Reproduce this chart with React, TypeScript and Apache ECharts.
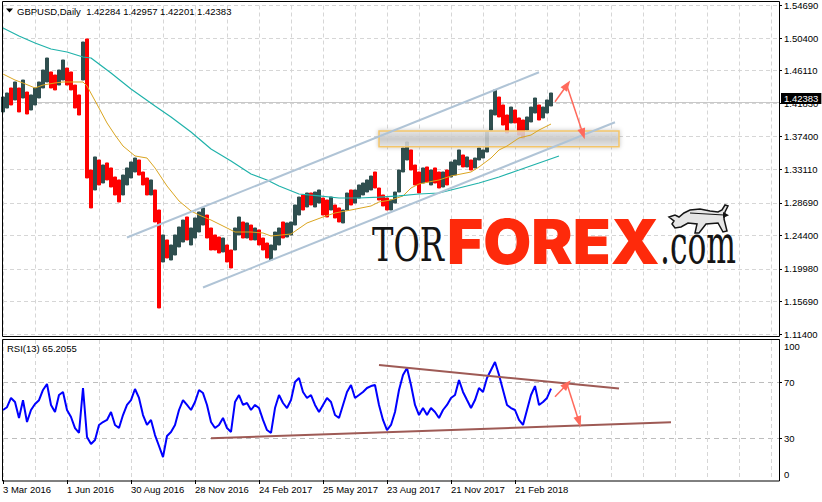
import React, { useEffect, useRef } from 'react';
import * as echarts from 'echarts';

// ---------- data ----------
const dateLabels = ['3 Mar 2016', '1 Jun 2016', '30 Aug 2016', '28 Nov 2016', '24 Feb 2017', '25 May 2017', '23 Aug 2017', '21 Nov 2017', '21 Feb 2018'];
const priceTicks = [1.114, 1.1569, 1.1998, 1.244, 1.2869, 1.3311, 1.374, 1.4183, 1.4611, 1.504, 1.5469];
const rsiTicks = [30, 70];
const ohlcTitle = ['1.42284', '1.42957', '1.42201', '1.42383'];
const lastPrice = 1.42383;
const rsiLast = '65.2055';
const N_CATEGORIES = 195;

const barHighs = [
  1.4263, 1.4316, 1.4382, 1.4461, 1.4382, 1.4487, 1.4329, 1.4290, 1.4382, 1.4461,
  1.4619, 1.4777, 1.4593, 1.4553, 1.4619, 1.4751, 1.4645, 1.4593, 1.4421, 1.4290,
  1.4988, 1.5028, 1.3301, 1.3473, 1.3433, 1.3367, 1.3394, 1.3328, 1.3209, 1.3170,
  1.3235, 1.3328, 1.3407, 1.3459, 1.3433, 1.3275, 1.3196, 1.3170, 1.3038, 1.2774,
  1.2445, 1.2379, 1.2313, 1.2445, 1.2550, 1.2642, 1.2682, 1.2537, 1.2669, 1.2748,
  1.2801, 1.2708, 1.2537, 1.2445, 1.2418, 1.2405, 1.2313, 1.2247, 1.2537, 1.2682,
  1.2616, 1.2603, 1.2576, 1.2537, 1.2511, 1.2405, 1.2339, 1.2313, 1.2484, 1.2537,
  1.2616, 1.2603, 1.2616, 1.2840, 1.2945, 1.2972, 1.2998, 1.2998, 1.3011, 1.3038,
  1.2932, 1.2906, 1.2945, 1.2840, 1.2801, 1.2774, 1.2998, 1.3038, 1.3038, 1.3104,
  1.3130, 1.3170, 1.3222, 1.3275, 1.3064, 1.2972, 1.2932, 1.2906, 1.3011, 1.3301,
  1.3591, 1.3670, 1.3565, 1.3367, 1.3275, 1.3328, 1.3341, 1.3301, 1.3328, 1.3275,
  1.3275, 1.3301, 1.3407, 1.3433, 1.3565, 1.3499, 1.3473, 1.3433, 1.3459, 1.3591,
  1.3565, 1.3802, 1.4092, 1.4356, 1.4263, 1.4158, 1.4026, 1.4131, 1.4092, 1.3987,
  1.3960, 1.4000, 1.4131, 1.4250, 1.4158, 1.4131, 1.4224, 1.4316,
];
const barLows = [
  1.4066, 1.4118, 1.4158, 1.4224, 1.4066, 1.4250, 1.4039, 1.4092, 1.4158, 1.4250,
  1.4382, 1.4461, 1.4382, 1.4356, 1.4421, 1.4487, 1.4421, 1.4356, 1.4118, 1.4026,
  1.4487, 1.3196, 1.2801, 1.3038, 1.3104, 1.3130, 1.3170, 1.3077, 1.2972, 1.2880,
  1.2972, 1.3104, 1.3196, 1.3275, 1.3235, 1.3104, 1.2972, 1.2972, 1.2616, 1.1483,
  1.2089, 1.2142, 1.2115, 1.2181, 1.2287, 1.2352, 1.2379, 1.2313, 1.2405, 1.2484,
  1.2576, 1.2405, 1.2247, 1.2247, 1.2208, 1.2221, 1.2089, 1.2010, 1.2247, 1.2445,
  1.2405, 1.2405, 1.2379, 1.2379, 1.2313, 1.2247, 1.2142, 1.2115, 1.2247, 1.2313,
  1.2405, 1.2418, 1.2445, 1.2576, 1.2708, 1.2774, 1.2814, 1.2840, 1.2814, 1.2866,
  1.2708, 1.2682, 1.2774, 1.2669, 1.2616, 1.2603, 1.2774, 1.2840, 1.2866, 1.2932,
  1.2972, 1.3011, 1.3038, 1.3064, 1.2906, 1.2827, 1.2774, 1.2774, 1.2866, 1.3011,
  1.3275, 1.3433, 1.3301, 1.3104, 1.2998, 1.3130, 1.3143, 1.3104, 1.3130, 1.3064,
  1.3077, 1.3104, 1.3209, 1.3235, 1.3367, 1.3341, 1.3341, 1.3301, 1.3328, 1.3433,
  1.3459, 1.3538, 1.3828, 1.4026, 1.4000, 1.3894, 1.3789, 1.3921, 1.3921, 1.3762,
  1.3723, 1.3828, 1.3934, 1.4052, 1.3960, 1.3987, 1.4052, 1.4145,
];
// u = bullish bar, d = bearish bar
const barDirs =
  'uudududuuu' + 'uudduudddd' + 'uddududddd' + 'uuuudddudd' + 'uduuuuduuu' +
  'uddddudduu' + 'dududdduuu' + 'duuuududuu' + 'ddudduuduu' + 'uuudddduuu' +
  'uudddududd' + 'uduuududuu' + 'uuuudddudd' + 'duuuduuu';

const rsiValues = [
  50, 52, 58.6, 55.7, 44.3, 57, 41.4, 50, 54.3, 57,
  64.3, 68.6, 53.6, 48.6, 60.7, 62.9, 50, 45, 37, 33.6,
  65.7, 30.7, 25.7, 28.6, 39.3, 41.4, 42.9, 48.6, 39.3, 37.1,
  46.4, 53.6, 57.1, 65, 58.6, 46.4, 39.3, 42.9, 32.1, 24.3,
  16.4, 31.4, 34.3, 39.3, 50, 57.1, 53.6, 50, 55.7, 64.3,
  62.1, 53.6, 41.4, 37.1, 39.3, 44.3, 37.1, 34.3, 55.7, 60.7,
  53.6, 55, 50, 53.6, 51.4, 42.9, 35.7, 33.6, 51.4, 60.7,
  55, 51.4, 57.1, 70, 72.9, 62.9, 58.6, 60.7, 53.6, 48.6,
  53.6, 58.6, 55.7, 46.4, 44.3, 53.6, 62.9, 67.9, 58.6, 60.7,
  62.9, 65.7, 67.1, 67.9, 53.6, 42.9, 35.7, 39.3, 48.6, 64.3,
  75, 80, 67.9, 53.6, 46.4, 51.4, 46.4, 51.4, 48.6, 44.3,
  50, 53.6, 58.6, 60.7, 71.4, 62.9, 57.1, 51.4, 57.1, 65.7,
  62.9, 72.9, 78.6, 84.3, 75, 64.3, 53.6, 51.4, 50, 42.9,
  39.3, 50, 60.7, 67.1, 53.6, 55.7, 58.6, 65.2,
];

// moving averages, [bar index, price]
const maFast = [
  [0, 1.4566], [3, 1.4487], [5, 1.4448], [8, 1.4382], [10, 1.4421], [13, 1.4448], [15, 1.4461],
  [18, 1.4461], [20, 1.4461], [21, 1.4408], [24, 1.4118], [26, 1.3921], [28, 1.3762], [30, 1.3617],
  [33, 1.3486], [36, 1.3459], [38, 1.3328], [41, 1.3090], [44, 1.2893], [47, 1.2761], [49, 1.2708],
  [52, 1.2642], [56, 1.2537], [58, 1.2484], [62, 1.2484], [65, 1.2471], [67, 1.2431], [72, 1.2458],
  [76, 1.2603], [80, 1.2682], [83, 1.2735], [87, 1.2774], [92, 1.2827], [94, 1.2880], [97, 1.2906],
  [100, 1.2959], [102, 1.3064], [104, 1.3117], [109, 1.3170], [112, 1.3222], [117, 1.3275],
  [119, 1.3341], [122, 1.3459], [124, 1.3565], [126, 1.3617], [129, 1.3723], [132, 1.3762],
  [134, 1.3828], [137, 1.3907],
];
const maSlow = [
  [0, 1.5173], [4, 1.5067], [8, 1.4975], [12, 1.4896], [16, 1.4856], [20, 1.4790], [22, 1.4777],
  [24, 1.4698], [27, 1.4580], [32, 1.4369], [38, 1.4145], [42, 1.4000], [47, 1.3802], [52, 1.3578],
  [57, 1.3420], [62, 1.3248], [66, 1.3170], [69, 1.3090], [74, 1.2985], [79, 1.2959], [84, 1.2932],
  [89, 1.2932], [94, 1.2945], [99, 1.2959], [104, 1.2985], [109, 1.2998], [114, 1.3064],
  [119, 1.3130], [124, 1.3209], [129, 1.3301], [134, 1.3394], [139, 1.3486],
];

// drawn annotations, [bar index, value]
const channelUpper = [[31, 1.2412], [134, 1.4589]];
const channelLower = [[50, 1.1753], [153, 1.3930]];
const rsiUpperLine = [[94, 82.1], [154, 65.3]];
const rsiLowerLine = [[52, 29.8], [167, 41.2]];
const zoneX = [94, 154];
const zonePrices = [1.3815, 1.3608];
const priceArrows = [
  [[138, 1.4201], [141, 1.4421]],
  [[141, 1.4408], [145, 1.3776]],
];
const rsiArrows = [
  [[138, 59.5], [141, 68.4]],
  [[141, 68.6], [144, 41.6]],
];

// ---------- chart ----------
const FONT = '"Liberation Sans", Arial, sans-serif';
const GRID_COLOR = '#D6D6D6';

function buildOption(): any {
  const categories = Array.from({ length: N_CATEGORIES }, (_, i) => String(i));
  const candles = barHighs.map((h, i) => {
    const l = barLows[i];
    return barDirs[i] === 'u' ? [l, h, l, h] : [h, l, l, h];
  });
  const labelShown = (i: number) => i % 16 === 0 && i / 16 < dateLabels.length;
  const arrowLine = (arr: number[][][]) => ({
    silent: true,
    symbol: ['none', 'triangle'],
    symbolSize: [8, 11],
    label: { show: false },
    lineStyle: { color: '#FF6A5C', width: 1.5, type: 'solid' },
    data: arr.map(([a, b]) => [{ coord: a }, { coord: b }]),
    z: 6,
  });
  const txt = (text: string, x: number, y: number, extra: any = {}, z = 50) => ({
    type: 'text', x, y, z, silent: true,
    style: {
      text, fill: '#000', fontSize: 9.5, fontFamily: FONT,
      align: 'left', textAlign: 'left', verticalAlign: 'middle', textVerticalAlign: 'middle',
      ...extra,
    },
  });
  const bull = [
    [669, 217], [675, 215], [679, 217], [684, 213], [690, 210], [700, 209], [710, 211], [718, 212],
    [722, 210], [725, 205], [728, 206], [725, 212], [724, 219], [727, 231], [723, 232], [718, 223],
    [706, 224], [699, 233], [695, 233], [697, 224], [688, 223], [681, 227], [675, 228], [672, 224],
    [674, 221],
  ];

  return {
    animation: false,
    backgroundColor: '#ffffff',
    grid: [
      { left: 3, width: 776, top: 5.5, height: 328.5 },
      { left: 3, width: 776, top: 340, height: 140 },
    ],
    xAxis: [
      {
        type: 'category', gridIndex: 0, data: categories, boundaryGap: false,
        axisLine: { show: false }, axisTick: { show: false }, axisLabel: { show: false },
        splitLine: { show: true, interval: 7, lineStyle: { color: GRID_COLOR, type: [4, 3], width: 1 } },
      },
      {
        type: 'category', gridIndex: 1, data: categories, boundaryGap: false,
        axisLine: { show: false },
        axisTick: { show: true, interval: labelShown, length: 4, lineStyle: { color: '#000' } },
        axisLabel: {
          show: true, interval: labelShown, align: 'left', margin: 4,
          color: '#000', fontSize: 9.5, fontFamily: FONT,
          formatter: (_v: string, idx: number) => (labelShown(idx) ? dateLabels[idx / 16] : ''),
        },
        splitLine: { show: true, interval: 7, lineStyle: { color: GRID_COLOR, type: [4, 3], width: 1 } },
      },
    ],
    yAxis: [
      {
        type: 'value', gridIndex: 0, position: 'right', min: 1.114, max: 1.5469, scale: true,
        axisLine: { show: true, lineStyle: { color: '#000' } },
        axisTick: { show: true, length: 3, customValues: priceTicks, lineStyle: { color: '#000' } },
        axisLabel: {
          customValues: priceTicks, margin: 5, color: '#000', fontSize: 9.5, fontFamily: FONT,
          formatter: (v: number) => v.toFixed(5),
        },
        splitLine: { show: true, lineStyle: { color: GRID_COLOR, type: [4, 3], width: 1 } },
      },
      {
        type: 'value', gridIndex: 1, position: 'right', min: 0, max: 100,
        axisLine: { show: true, lineStyle: { color: '#000' } },
        axisTick: { show: true, length: 3, customValues: rsiTicks, lineStyle: { color: '#000' } },
        axisLabel: {
          customValues: rsiTicks, margin: 5, color: '#000', fontSize: 9.5, fontFamily: FONT,
          formatter: (v: number) => String(v),
        },
        splitLine: { show: true, lineStyle: { color: '#BDBDBD', type: [5, 4], width: 1 } },
      },
    ],
    series: [
      {
        type: 'candlestick', name: 'GBPUSD', xAxisIndex: 0, yAxisIndex: 0, data: candles,
        barWidth: 3, z: 2,
        itemStyle: { color: '#2F4F4F', color0: '#FF0000', borderColor: '#2F4F4F', borderColor0: '#FF0000', borderWidth: 1 },
        markLine: {
          silent: true, symbol: 'none', label: { show: false }, z: 1,
          lineStyle: { color: '#C8C8C8', type: 'solid', width: 1 },
          data: [{ yAxis: lastPrice }],
        },
      },
      {
        type: 'line', name: 'MA fast', xAxisIndex: 0, yAxisIndex: 0, data: maFast,
        showSymbol: false, symbol: 'none', z: 4,
        lineStyle: { color: '#DAA520', width: 1 },
        markLine: arrowLine(priceArrows),
      },
      {
        type: 'line', name: 'MA slow', xAxisIndex: 0, yAxisIndex: 0, data: maSlow,
        showSymbol: false, symbol: 'none', z: 4,
        lineStyle: { color: '#20B2AA', width: 1.2 },
      },
      {
        type: 'line', name: 'Channel upper', xAxisIndex: 0, yAxisIndex: 0, data: channelUpper,
        showSymbol: false, symbol: 'none', z: 4,
        lineStyle: { color: '#B0C4D6', width: 2 },
        markArea: {
          silent: true, z: 3,
          itemStyle: {
            color: {
              type: 'linear', x: 0, y: 0, x2: 0, y2: 1,
              colorStops: [
                { offset: 0, color: 'rgba(228,228,228,0.85)' },
                { offset: 0.5, color: 'rgba(200,200,200,0.85)' },
                { offset: 1, color: 'rgba(228,228,228,0.85)' },
              ],
            },
            borderColor: '#F3C56A', borderWidth: 1.5,
            shadowBlur: 4, shadowColor: 'rgba(0,0,0,0.25)',
          },
          data: [[{ coord: [zoneX[0], zonePrices[0]] }, { coord: [zoneX[1], zonePrices[1]] }]],
        },
      },
      {
        type: 'line', name: 'Channel lower', xAxisIndex: 0, yAxisIndex: 0, data: channelLower,
        showSymbol: false, symbol: 'none', z: 4,
        lineStyle: { color: '#B0C4D6', width: 2 },
      },
      {
        type: 'line', name: 'RSI(13)', xAxisIndex: 1, yAxisIndex: 1, data: rsiValues,
        showSymbol: false, symbol: 'none', z: 3,
        lineStyle: { color: '#0000FF', width: 2 },
        markLine: arrowLine(rsiArrows),
      },
      {
        type: 'line', name: 'RSI upper', xAxisIndex: 1, yAxisIndex: 1, data: rsiUpperLine,
        showSymbol: false, symbol: 'none', z: 4,
        lineStyle: { color: '#9E5A55', width: 2 },
      },
      {
        type: 'line', name: 'RSI lower', xAxisIndex: 1, yAxisIndex: 1, data: rsiLowerLine,
        showSymbol: false, symbol: 'none', z: 4,
        lineStyle: { color: '#9E5A55', width: 2 },
      },
    ],
    graphic: [
      { type: 'rect', silent: true, z: 50, shape: { x: 2.5, y: 1.5, width: 777, height: 335 }, style: { fill: 'none', stroke: '#000', lineWidth: 1 } },
      { type: 'rect', silent: true, z: 50, shape: { x: 2.5, y: 339.5, width: 777, height: 141.5 }, style: { fill: 'none', stroke: '#000', lineWidth: 1 } },
      { type: 'polygon', silent: true, z: 50, shape: { points: [[6, 8.5], [13, 8.5], [9.5, 12.5]] }, style: { fill: '#000' } },
      txt('GBPUSD,Daily  ' + ohlcTitle.join(' '), 17, 11),
      txt('RSI(13) ' + rsiLast, 7, 348),
      txt('100', 784, 346),
      txt('0', 784, 474),
      txt(lastPrice.toFixed(5), 781, 98.5, { fill: '#fff', backgroundColor: '#000', padding: [1, 3, 0, 3] }, 200),
      // logo
      { type: 'text', silent: true, z: 40, x: 372, y: 245, scaleX: 0.7, style: { text: 'TOR', fill: '#151515', fontSize: 46, fontFamily: '"DejaVu Serif", serif', align: 'left', textAlign: 'left', verticalAlign: 'middle', textVerticalAlign: 'middle' } },
      { type: 'text', silent: true, z: 40, x: 447, y: 241, style: { text: 'FOREX', fill: '#FE2A0B', fontSize: 62, fontWeight: 900, fontFamily: 'Inter, Roboto, "Open Sans", sans-serif', align: 'left', textAlign: 'left', verticalAlign: 'middle', textVerticalAlign: 'middle' } },
      { type: 'text', silent: true, z: 40, x: 660, y: 244, scaleX: 0.58, style: { text: '.com', fill: '#151515', fontSize: 54, fontFamily: '"DejaVu Serif", serif', align: 'left', textAlign: 'left', verticalAlign: 'middle', textVerticalAlign: 'middle' } },
      { type: 'polygon', silent: true, z: 40, shape: { points: bull }, style: { fill: '#E6E6E6', stroke: '#151515', lineWidth: 1.5 } },
      { type: 'polyline', silent: true, z: 41, shape: { points: [[690, 213], [724, 215]] }, style: { stroke: '#151515', lineWidth: 1.2 } },
      { type: 'polygon', silent: true, z: 41, shape: { points: [[723, 212], [729, 215.3], [723, 218]] }, style: { fill: '#151515' } },
    ],
  };
}

export default function App() {
  const ref = useRef<HTMLDivElement>(null);
  useEffect(() => {
    if (!ref.current) return;
    const chart = echarts.init(ref.current, null, { renderer: 'svg' });
    chart.setOption(buildOption());
    return () => chart.dispose();
  }, []);
  return (
    <div
      ref={ref}
      style={{ position: 'fixed', left: 0, top: 0, width: 822, height: 502, background: '#fff' }}
    />
  );
}
